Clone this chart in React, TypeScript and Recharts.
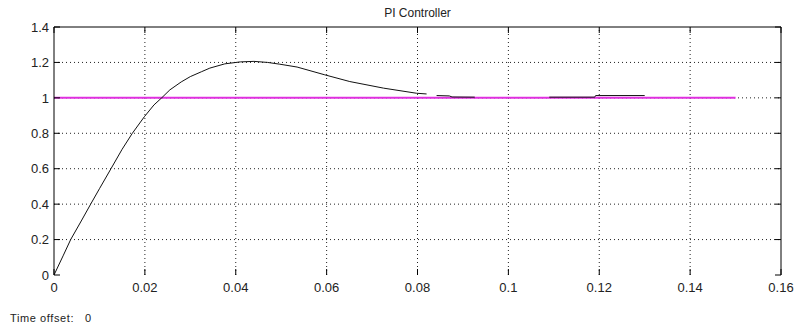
import React from "react";
import { LineChart, Line, XAxis, YAxis, ReferenceLine } from "recharts";

// ---- data ----
const xTicks = [0, 0.02, 0.04, 0.06, 0.08, 0.1, 0.12, 0.14, 0.16];
const xTickLabels = ["0", "0.02", "0.04", "0.06", "0.08", "0.1", "0.12", "0.14", "0.16"];
const yTicks = [0, 0.2, 0.4, 0.6, 0.8, 1, 1.2, 1.4];
const yTickLabels = ["0", "0.2", "0.4", "0.6", "0.8", "1", "1.2", "1.4"];
const xGrid = [0.02, 0.04, 0.06, 0.08, 0.1, 0.12, 0.14];
const yGrid = [0.2, 0.4, 0.6, 0.8, 1, 1.2];

const responseTime = [
  0, 0.002, 0.00367, 0.006, 0.00807, 0.01, 0.01254, 0.015, 0.01724, 0.0199, 0.022, 0.0237,
  0.0255, 0.028, 0.03, 0.0325, 0.0343, 0.0376, 0.041, 0.044, 0.047, 0.0497, 0.0535, 0.0596, 0.0651,
  0.0725, 0.0798, 0.082, 0.083, 0.0842, 0.087, 0.0876, 0.0926, 0.1, 0.109, 0.119, 0.1192, 0.13,
];
const responseValue: (number | null)[] = [
  0, 0.108, 0.2, 0.305, 0.4, 0.487, 0.6, 0.71, 0.8, 0.894, 0.96, 1.0,
  1.045, 1.09, 1.12, 1.148, 1.168, 1.192, 1.203, 1.206, 1.2, 1.19, 1.174, 1.13, 1.092,
  1.055, 1.026, 1.022, null, 1.013, 1.011, 1.005, 1.004, null, 1.004, 1.004, 1.013, 1.013,
];
const stepTime = [0, 0.15];
const stepValue = [1, 1];

const responseData = responseTime.map((t, i) => ({ t, v: responseValue[i] }));
const stepData = stepTime.map((t, i) => ({ t, v: stepValue[i] }));

// ---- layout ----
const W = 796;
const H = 329;
const M_TOP = 27;
const M_RIGHT = 15;
const Y_AXIS_W = 54;
const X_AXIS_H = 54;
const PLOT_W = W - Y_AXIS_W - M_RIGHT;
const PLOT_H = H - M_TOP - X_AXIS_H;
const TICK_LEN = 6;
const X_MARGIN = 8;
const Y_MARGIN = 5;
const FONT = "'Liberation Sans', Arial, sans-serif";
const TEXT_COLOR = "#222";

const XTick = (props: any) => {
  const { x, y, index } = props;
  const ay = y - X_MARGIN;
  return (
    <g>
      <line x1={x} x2={x} y1={ay} y2={ay - TICK_LEN} stroke="#000" strokeWidth={1} />
      <line x1={x} x2={x} y1={ay - PLOT_H} y2={ay - PLOT_H + TICK_LEN} stroke="#000" strokeWidth={1} />
      <text x={x} y={y} dy="0.71em" textAnchor="middle" fontSize={13} fontFamily={FONT} fill={TEXT_COLOR}>
        {xTickLabels[index]}
      </text>
    </g>
  );
};

const YTick = (props: any) => {
  const { x, y, index } = props;
  const ax = x + Y_MARGIN;
  return (
    <g>
      <line x1={ax} x2={ax + TICK_LEN} y1={y} y2={y} stroke="#000" strokeWidth={1} />
      <line x1={ax + PLOT_W} x2={ax + PLOT_W - TICK_LEN} y1={y} y2={y} stroke="#000" strokeWidth={1} />
      <text x={x} y={y} dy="0.36em" textAnchor="end" fontSize={13} fontFamily={FONT} fill={TEXT_COLOR}>
        {yTickLabels[index]}
      </text>
    </g>
  );
};

export default function App() {
  return (
    <div style={{ position: "absolute", left: 0, top: 0, width: W, height: H, background: "#fff" }}>
      <div
        style={{
          position: "absolute",
          left: Y_AXIS_W,
          width: PLOT_W,
          top: 6,
          textAlign: "center",
          fontFamily: FONT,
          fontSize: 12,
          color: TEXT_COLOR,
        }}
      >
        PI Controller
      </div>
      <LineChart
        width={W}
        height={H}
        margin={{ top: M_TOP, right: M_RIGHT, left: 0, bottom: 0 }}
      >
        <XAxis
          dataKey="t"
          type="number"
          domain={[0, 0.16]}
          ticks={xTicks}
          allowDataOverflow
          axisLine={false}
          tickLine={false}
          tickSize={0}
          tickMargin={X_MARGIN}
          height={X_AXIS_H}
          tick={<XTick />}
          interval={0}
        />
        <YAxis
          type="number"
          domain={[0, 1.4]}
          ticks={yTicks}
          allowDataOverflow
          axisLine={{ stroke: "#000", strokeWidth: 1 }}
          tickLine={false}
          tickSize={0}
          tickMargin={Y_MARGIN}
          width={Y_AXIS_W}
          tick={<YTick />}
          interval={0}
        />
        {xGrid.map((g) => (
          <ReferenceLine key={"gx" + g} x={g} stroke="#222" strokeDasharray="1 3" strokeWidth={1} />
        ))}
        {yGrid.map((g) => (
          <ReferenceLine key={"gy" + g} y={g} stroke="#222" strokeDasharray="1 3" strokeWidth={1} />
        ))}
        <ReferenceLine y={1.4} stroke="#000" strokeWidth={1} />
        <ReferenceLine x={0.16} stroke="#000" strokeWidth={1} />
        <Line
          data={stepData}
          dataKey="v"
          type="linear"
          stroke="#e030e0"
          strokeWidth={2}
          dot={false}
          isAnimationActive={false}
        />
        <Line
          data={responseData}
          dataKey="v"
          type="linear"
          stroke="#111"
          strokeWidth={1}
          dot={false}
          connectNulls={false}
          isAnimationActive={false}
        />
      </LineChart>
      <div
        style={{
          position: "absolute",
          left: 10,
          top: 312,
          fontFamily: FONT,
          fontSize: 11,
          letterSpacing: 0.6,
          color: TEXT_COLOR,
          whiteSpace: "pre",
        }}
      >
        {"Time offset:   0"}
      </div>
    </div>
  );
}
